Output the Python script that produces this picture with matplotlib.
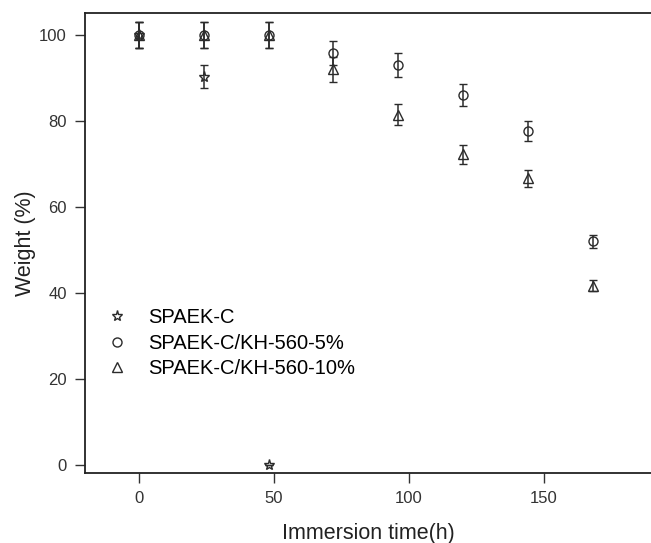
import matplotlib
matplotlib.use("Agg")
import matplotlib.pyplot as plt

plt.rcParams['font.family'] = ['Liberation Sans', 'DejaVu Sans']

# immersion time (h) and remaining weight (%) of each membrane
time_c = [0, 24, 48]
weight_c = [100, 90.3, 0]
err_c = [3.0, 2.7, 0]

time_5 = [0, 24, 48, 72, 96, 120, 144, 168]
weight_5 = [100, 100, 100, 95.8, 93.0, 86.0, 77.7, 52.0]
err_5 = [3.0, 3.0, 3.0, 2.7, 2.8, 2.5, 2.3, 1.5]

time_10 = [0, 24, 48, 72, 96, 120, 144, 168]
weight_10 = [100, 100, 100, 92.0, 81.5, 72.3, 66.7, 41.7]
err_10 = [3.0, 3.0, 3.0, 2.9, 2.4, 2.2, 2.0, 1.3]

col = "#2b2b2b"

fig = plt.figure(figsize=(6.51, 5.43), dpi=100)
ax = fig.add_axes([0.1306, 0.129, 0.8694, 0.8476])

style = dict(mfc='none', mec=col, mew=1.0, ecolor=col, elinewidth=1.1,
             capsize=3, capthick=1.1)
ax.errorbar(time_c, weight_c, yerr=err_c, fmt='*', ms=8, label='SPAEK-C', **style)
ax.errorbar(time_5, weight_5, yerr=err_5, fmt='o', ms=6.5,
            label='SPAEK-C/KH-560-5%', **style)
ax.errorbar(time_10, weight_10, yerr=err_10, fmt='^', ms=6.5,
            label='SPAEK-C/KH-560-10%', **style)

ax.set_xlim(-20, 189.6)
ax.set_ylim(-1.9, 105.2)
ax.set_xticks([0, 50, 100, 150])
ax.set_yticks([0, 20, 40, 60, 80, 100])
ax.tick_params(axis='both', direction='out', length=7, width=1.0,
               labelsize=12, colors='#333333', pad=6)
for side in ['left', 'bottom', 'top']:
    ax.spines[side].set_linewidth(1.3)
    ax.spines[side].set_color('#222222')
ax.spines['right'].set_visible(False)

ax.set_xlabel('Immersion time(h)', fontsize=15.5, color='#222222', labelpad=12)
ax.set_ylabel('Weight (%)', fontsize=15.5, color='#222222', labelpad=2)

handles, labels = ax.get_legend_handles_labels()
handles = [h[0] for h in handles]
ax.legend(handles, labels, loc='center left', bbox_to_anchor=(-0.002, 0.282),
          frameon=False, fontsize=14.5, handletextpad=0.8, labelspacing=0.33,
          handlelength=1.5)

fig.savefig("out.png", dpi=100)
